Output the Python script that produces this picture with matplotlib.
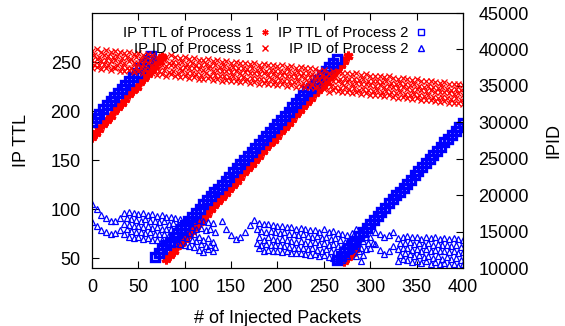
import numpy as np
import matplotlib.pyplot as plt

# =========================================================
# DATOS
# =========================================================
nan = np.nan

# IP TTL (eje izquierdo), muestreado cada 4 paquetes
ttl2_x = np.concatenate([np.arange(0, 65, 4), np.arange(68, 265, 4), np.arange(264, 401, 4)])
ttl2_y = [189, 193, 197, 202, 206, 210, 214, 218, 223, 227, 231, 235, 239, 244, 248, 252, 256,
          51, 55, 59, 63, 67, 72, 76, 80, 84, 88, 92, 96, 100, 105, 109, 113, 117, 121, 125, 129,
          133, 138, 142, 146, 150, 154, 158, 162, 166, 171, 175, 179, 183, 187, 191, 195, 199, 204,
          208, 212, 216, 220, 224, 228, 232, 237, 241, 245, 249, 253,
          48, 52, 56, 60, 64, 68, 73, 77, 81, 85, 89, 93, 97, 101, 106, 110, 114, 118, 122, 126,
          130, 135, 139, 143, 147, 151, 155, 159, 163, 168, 172, 176, 180, 184, 188]

ttl1_x = np.concatenate([np.arange(0, 77, 4), np.arange(80, 277, 4), np.arange(272, 285, 4)])
ttl1_y = [174, 178, 182, 187, 191, 195, 200, 204, 208, 212, 217, 221, 225, 230, 234, 238, 242,
          246, 251, 255,
          49, 53, 57, 62, 66, 70, 74, 78, 83, 87, 91, 95, 100, 104, 108, 112, 116, 121, 125, 129,
          133, 138, 142, 146, 150, 154, 159, 163, 167, 171, 175, 180, 184, 188, 192, 197, 201, 205,
          209, 213, 218, 222, 226, 230, 235, 239, 243, 247, 251, 256,
          47, 51, 55, 59]

# IPID (eje derecho), muestreado cada 5 paquetes; filas intermedias desplazadas 2.5
id_x = np.arange(0, 401, 5)
id_xh = np.arange(2.5, 400, 5)

id1_a = [39800, 40000, 39700, 39900, 39600, 39800, 39700, 39500, 39600, 39400,
         39500, 39300, 39400, 39200, 38900, 39100, 39000, 39200, 39000, 38800,
         38900, 38700, 38800, 38600, 38500, 38700, 38400, 38500, 38300, 38400,
         38200, 38300, 38100, 38200, 38000, 38100, 37900, 38000, 37800, 37900,
         37700, 37800, 37600, 37700, 37500, 37600, 37400, 37500, 37300, 37100,
         37200, 36800, 37000, 36900, 36700, 36800, 36600, 36700, 36500, 36600,
         36400, 36300, 36400, 36200, 36300, 36100, 36000, 36100, 35900, 35800,
         35900, 35700, 35600, 35700, 35500, 35400, 35500, 35300, 35200, 35300,
         35100]
id1_ab = [39200, 39000, 39300, 39100, 38900, 39100, 38800, 38900, 38700, 38900,
          38700, 38600, 38500, 38300, 38400, 38500, 38200, 38300, 38100, 38300,
          38000, 38100, 37900, 37800, 38000, 37700, 37800, 37600, 37700, 37500,
          37600, 37400, 37500, 37300, 37400, 37200, 37300, 37100, 37200, 37000,
          37100, 36900, 37000, 36800, 36900, 36700, 36800, 36600, 36300, 36500,
          36200, 36300, 36200, 36000, 36100, 35900, 36000, 35800, 35900, 35700,
          35600, 35700, 35500, 35600, 35400, 35300, 35400, 35200, 35100, 35200,
          35000, 34900, 35000, 34800, 34700, 34800, 34600, 34500, 34600, 34400]
id1_b = [38500, 38700, 38400, 38600, 38400, 38500, 38300, 38200, 38400, 38100,
         38200, 38000, 38100, 37900, 37700, 37800, 37700, 37900, 37700, 37500,
         37600, 37400, 37500, 37300, 37200, 37400, 37100, 37200, 37000, 37100,
         36900, 37000, 36800, 36900, 36700, 36800, 36600, 36700, 36500, 36600,
         36400, 36500, 36300, 36400, 36200, 36300, 36100, 36200, 36000, 35800,
         35900, 35500, 35700, 35600, 35400, 35500, 35300, 35400, 35200, 35300,
         35100, 35000, 35100, 34900, 35000, 34800, 34700, 34800, 34600, 34500,
         34600, 34400, 34300, 34400, 34200, 34100, 34200, 34000, 33900, 34000,
         33800]
id1_bc = [37900, 37800, 38000, 37800, 37600, 37800, 37600, 37500, 37400, 37600,
          37400, 37300, 37200, 37000, 37100, 37200, 36900, 37000, 36800, 37000,
          36700, 36800, 36600, 36500, 36700, 36400, 36500, 36300, 36400, 36200,
          36300, 36100, 36200, 36000, 36100, 35900, 36000, 35800, 35900, 35700,
          35800, 35600, 35700, 35500, 35600, 35400, 35500, 35300, 35000, 35200,
          34900, 35000, 34900, 34700, 34800, 34600, 34700, 34500, 34600, 34400,
          34300, 34400, 34200, 34300, 34100, 34000, 34100, 33900, 33800, 33900,
          33700, 33600, 33700, 33500, 33400, 33500, 33300, 33200, 33300, 33100]
id1_c = [37500, 37600, 37300, 37500, 37200, 37400, 37100, 37000, 37200, 36900,
         37000, 36800, 36900, 36700, 36500, 36600, 36400, 36600, 36400, 36200,
         36300, 36100, 36200, 36000, 35900, 36100, 35800, 35900, 35700, 35800,
         35600, 35700, 35500, 35600, 35400, 35500, 35300, 35400, 35200, 35300,
         35100, 35200, 35000, 35100, 34900, 35000, 34800, 34900, 34700, 34500,
         34600, 34200, 34400, 34300, 34100, 34200, 34000, 34100, 33900, 34000,
         33800, 33700, 33800, 33600, 33700, 33500, 33400, 33500, 33300, 33200,
         33300, 33100, 33000, 33100, 32900, 32800, 32900, 32700, 32600, 32700,
         32500]

id2_a = [18800, 18100, 17300, 16800, 16400, 16400, 16800, 17600, 17700, 17500,
         17400, 17600, 17300, 17400, 17200, 17300, 17000, 17000, 16800, 16700,
         16600, 16500, 16400, 16600, 16500, 16300, 16200, nan, 16500, 15300,
         14500, 14000, 14300, 15000, 15900, 16600, 16200, 16000, 16100, 15900,
         15800, 15700, 15600, 15600, 15400, 15500, 15300, 15200, 15200, 15000,
         15300, 15000, 15100, 14800, 14600, 14500, 14800, 15400, 14900, 14200,
         14300, 14900, 14600, 14300, 14500, 14900, 14100, 14300, 14400, 14200,
         14300, 14000, 14300, 14100, 14200, 14000, 14100, 14000, 14100, 14000,
         13900]
id2_ab = [nan, nan, nan, nan, nan, nan, nan, 16800, 16700, 16600,
          16500, 16700, 16400, 16500, 16300, 16400, 16100, 16200, 15900, 15800,
          15700, 15600, 15400, 15500, 15200, 15300, 14900, nan, nan, nan,
          nan, nan, nan, nan, nan, 15300, 15100, 15000, 15100, 14900,
          14800, 14900, 14700, 14600, 14500, 14600, 14400, 14300, 14400, 14100,
          14300, 14000, 14100, 13800, 13600, 13900, 14600, 14300, 13700, 13400,
          13500, nan, nan, nan, nan, nan, 13400, 13500, 13600, 13300,
          13400, 13200, 13400, 13200, 13300, 13100, 13200, 13000, 13100, 12900]
id2_b = [16300, 15700, 15200, 14900, 14700, 14800, 15200, 16000, 15900, 15800,
         15800, 15600, 15700, 15500, 15600, 15400, 15300, 15400, 15200, 15100,
         15000, 14800, 14600, 14300, 13800, 14100, 13600, nan, nan, nan,
         nan, nan, nan, nan, nan, nan, 14200, 13800, 14200, 14000,
         13900, 14000, 13800, 13700, 13600, 13700, 13500, 13400, 13600, 13300,
         13500, 13200, 13300, 13000, 12800, 13200, 13900, 13300, 12800, 12600,
         12700, 13300, 12500, 11900, 12300, 13000, 12600, 12800, 12700, 12500,
         12600, 12300, 12600, 12400, 12500, 12300, 12400, 12200, 12300, 12100,
         12200]
id2_bc = [nan, nan, nan, nan, nan, nan, nan, 15300, 15100, 15000,
          14900, 14800, 14900, 14700, 14600, 14700, 14500, 14400, 14300, 14200,
          14100, 13900, 13700, 13300, 13000, 13200, 12900, nan, nan, nan,
          nan, nan, nan, nan, nan, 13500, 13100, 13300, 13200, 13100,
          13100, 13000, 12900, 12800, 12800, 12700, 12600, 12700, 12500, 12400,
          12600, 12300, 12200, 12000, 11900, 12400, 13200, 12400, 11800, nan,
          nan, nan, nan, nan, nan, nan, 11800, 12000, 11900, 11600,
          11800, 11500, 11700, 11400, 11600, 11300, 11500, 11200, 11400, 11100]
id2_c = [nan, nan, nan, nan, nan, nan, nan, 14700, 14300, 14100,
         14200, 14000, 14100, 13900, 13800, 13900, 13700, 13600, 13500, 13300,
         13200, 13000, 12900, 12500, 12200, 12600, 12300, nan, nan, nan,
         nan, nan, nan, nan, nan, nan, 12800, 12400, 12500, 12300,
         12400, 12200, 12300, 12100, 12000, 12100, 11900, 11800, 11900, 11600,
         11800, 11500, 11400, 11200, 11100, 11700, 12600, 11600, 11000, nan,
         nan, nan, nan, nan, nan, nan, 11000, 11300, 11100, 10800,
         11000, 10700, 10900, 10600, 10800, 10500, 10700, 10400, 10600, 10300,
         10500]

# =========================================================
# FIGURA
# =========================================================
plt.rcParams['font.family'] = ['Liberation Sans', 'DejaVu Sans']

fig = plt.figure(figsize=(5.65, 3.26), dpi=100)
ax = fig.add_axes([0.1628, 0.1779, 0.6567, 0.7822])
ax2 = ax.twinx()

red = '#ff0000'
blue = '#0000ff'

h1, = ax.plot(ttl1_x, ttl1_y, ls='none', marker=(6, 2, 0), ms=7, mew=2.2,
              color=red, label='IP TTL of Process 1')
h2, = ax.plot(ttl2_x, ttl2_y, ls='none', marker='s', ms=6, mew=2.4, mfc='none',
              color=blue, label='IP TTL of Process 2')

id1_rows = [(id_x, id1_a), (id_xh, id1_ab), (id_x, id1_b), (id_xh, id1_bc), (id_x, id1_c)]
id2_rows = [(id_x, id2_a), (id_xh, id2_ab), (id_x, id2_b), (id_xh, id2_bc), (id_x, id2_c)]

for xs, row in id1_rows:
    h3, = ax2.plot(xs, row, ls='none', marker='x', ms=4.5, mew=0.9,
                   color=red, label='IP ID of Process 1')
for xs, row in id2_rows:
    h4, = ax2.plot(xs, row, ls='none', marker='^', ms=4.5, mew=0.9, mfc='none',
                   color=blue, label='IP ID of Process 2')

ax.set_xlim(0, 400)
ax.set_ylim(40, 300)
ax2.set_ylim(10000, 45000)
ax.set_xticks(range(0, 401, 50))
ax.set_yticks(range(50, 251, 50))
ax2.set_yticks(range(10000, 45001, 5000))

ax.tick_params(axis='x', direction='in', length=5, width=0.8, top=True,
               labelsize=13, pad=8)
ax.tick_params(axis='y', direction='in', length=5, width=0.8, right=False,
               labelsize=13, pad=8)
ax2.tick_params(axis='y', direction='in', length=5, width=0.8, labelsize=13, pad=11)

ax.set_xlabel('# of Injected Packets', fontsize=13, labelpad=10)
ax.set_ylabel('IP TTL', fontsize=13, labelpad=15)
ax2.set_ylabel('IPID', fontsize=13, labelpad=12)

# la leyenda va en ax2 para quedar encima de todas las marcas
leg = ax2.legend([h1, h3, h2, h4], ['IP TTL of Process 1', 'IP ID of Process 1',
                                    'IP TTL of Process 2', 'IP ID of Process 2'],
                 ncol=2, markerfirst=False, frameon=False, fontsize=10.7,
                 loc='upper right', bbox_to_anchor=(0.922, 0.972),
                 handlelength=1.0, handletextpad=0.3, columnspacing=0.4,
                 labelspacing=0.15, borderaxespad=0)
for lh in leg.legend_handles:
    lh.set_markersize(4.5)
    lh.set_markeredgewidth(1.0)
leg.set_zorder(20)

fig.savefig('out.png', dpi=100)
